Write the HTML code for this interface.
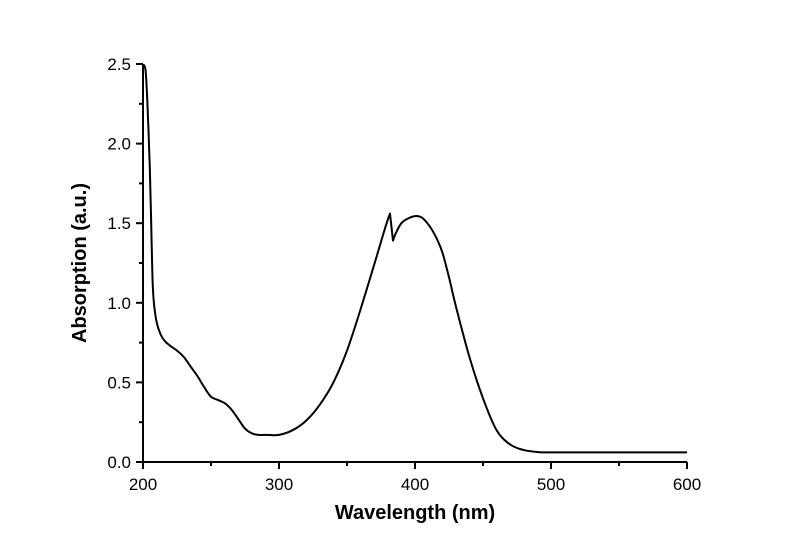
<!DOCTYPE html>
<html><head><meta charset="utf-8"><style>
html,body{margin:0;padding:0;background:#fff;}
svg{display:block;font-family:"Liberation Sans",Arial,sans-serif;}
</style></head><body>
<svg id="chart" width="800" height="555" viewBox="0 0 800 555">
<g id="axes"></g>
<path id="line" fill="none" stroke="#000" stroke-width="2" stroke-linejoin="round"/>
<text x="415" y="519" text-anchor="middle" font-size="20" font-weight="bold">Wavelength (nm)</text>
<text transform="translate(86,263) rotate(-90)" text-anchor="middle" font-size="20" font-weight="bold">Absorption (a.u.)</text>
</svg>
<script>
const wavelengths=[200,201,202,203,204,205,206,207,208,210,213,216,220,225,230,235,240,245,250,255,260,265,270,275,280,285,290,300,310,320,330,340,350,360,370,378,381.6,383.8,386,390,395,400.7,405,410,415,420,425,430,440,450,460,470,480,490,500,550,600];
const absorbance=[2.49,2.49,2.45,2.3,2.1,1.85,1.5,1.15,1.0,0.88,0.8,0.76,0.73,0.7,0.66,0.6,0.54,0.47,0.41,0.39,0.37,0.33,0.27,0.21,0.18,0.17,0.17,0.17,0.2,0.26,0.36,0.5,0.7,0.96,1.24,1.47,1.56,1.39,1.44,1.5,1.53,1.545,1.535,1.49,1.42,1.32,1.16,0.98,0.66,0.4,0.2,0.11,0.075,0.063,0.06,0.06,0.06];
const xTicks=[200,300,400,500,600];
const yTicks=[0.0,0.5,1.0,1.5,2.0,2.5];
const X0=143,X1=687,Y0=462,Y1=64;
const xs=v=>X0+(v-200)/400*(X1-X0);
const ys=v=>Y0-v/2.5*(Y0-Y1);
const NS="http://www.w3.org/2000/svg";
const ax=document.getElementById('axes');
function mk(tag,attrs,parent){const e=document.createElementNS(NS,tag);for(const k in attrs)e.setAttribute(k,attrs[k]);parent.appendChild(e);return e;}
const xl=mk('line',{x1:X0-1,y1:Y0,x2:X1,y2:Y0,stroke:'#000','stroke-width':2},ax);


const yl=mk('line',{x1:X0,y1:Y0+1,x2:X0,y2:Y1,stroke:'#000','stroke-width':2},ax);


for(let v=200;v<=600;v+=50){
  const major=v%100===0;
  const t=mk('line',{x1:xs(v),y1:Y0,x2:xs(v),y2:Y0+(major?7:4),stroke:'#000','stroke-width':2},ax);
  
  
}
xTicks.forEach(v=>{
  const t=mk('text',{x:xs(v),y:Y0+28,'text-anchor':'middle','font-size':17},ax);
  t.textContent=v;
  
  
});
for(let i=0;i<=10;i++){
  const v=i*0.25, major=i%2===0;
  const t=mk('line',{x1:X0,y1:ys(v),x2:X0-(major?7:4),y2:ys(v),stroke:'#000','stroke-width':2},ax);
  
  
}
yTicks.forEach(v=>{
  const t=mk('text',{x:X0-12,y:ys(v)+6,'text-anchor':'end','font-size':17},ax);
  t.textContent=v.toFixed(1);
  
  
});
const P=wavelengths.map((w,i)=>[xs(w),ys(absorbance[i])]);
let d='M'+P[0][0].toFixed(1)+','+P[0][1].toFixed(1);
for(let i=0;i<P.length-1;i++){
  const p0=P[Math.max(0,i-1)],p1=P[i],p2=P[i+1],p3=P[Math.min(P.length-1,i+2)];
  const sharp=(wavelengths[i]===381.6||wavelengths[i]===383.8);
  const sharp2=(wavelengths[i+1]===381.6||wavelengths[i+1]===383.8);
  const k=1/6;
  const c1=sharp?p1:[p1[0]+(p2[0]-p0[0])*k,p1[1]+(p2[1]-p0[1])*k];
  const c2=sharp2?p2:[p2[0]-(p3[0]-p1[0])*k,p2[1]-(p3[1]-p1[1])*k];
  d+='C'+c1[0].toFixed(1)+','+c1[1].toFixed(1)+' '+c2[0].toFixed(1)+','+c2[1].toFixed(1)+' '+p2[0].toFixed(1)+','+p2[1].toFixed(1);
}
document.getElementById('line').setAttribute('d',d);
</script>
</body></html>
